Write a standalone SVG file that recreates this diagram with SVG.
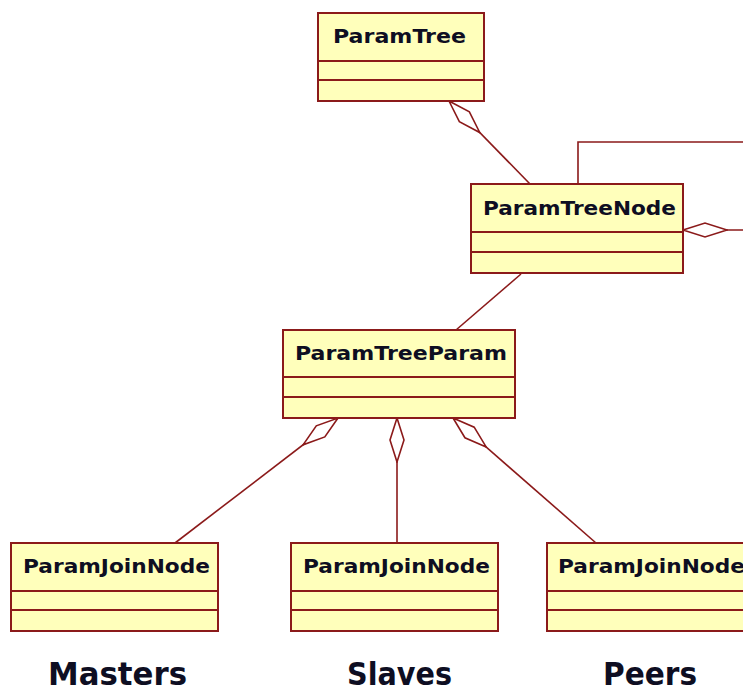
<svg xmlns="http://www.w3.org/2000/svg" width="743" height="693" viewBox="0 0 743 693">
  <style>
    .box { fill: #FFFFBB; stroke: #8B1A1A; stroke-width: 2; }
    .sep { stroke: #8B1A1A; stroke-width: 2; }
    .title { font-family: "DejaVu Sans", Verdana, sans-serif; font-weight: bold; font-size: 20px; fill: #0E0E22; }
    .label { font-family: "DejaVu Sans", Verdana, sans-serif; font-weight: bold; font-size: 32px; fill: #0E0E22; }
    .conn { fill: none; stroke: #8B1A1A; stroke-width: 1.6; }
  </style>
  <defs>
    <!-- open aggregation diamond, drawn from the owning class outward -->
    <marker id="agg" viewBox="-1 -1 46 18" refX="0" refY="8" markerWidth="46" markerHeight="18" markerUnits="userSpaceOnUse" orient="auto">
      <path d="M0,8 L22,1 L44,8 L22,15 Z" fill="#FFFFFF" stroke="#8B1A1A" stroke-width="1.6"/>
    </marker>
  </defs>

  <g id="connectors">
    <path class="conn" d="M449,101 L530,184" marker-start="url(#agg)"/>
    <path class="conn" d="M578,184 L578,142 L745,142"/>
    <path class="conn" d="M683,230 L745,230" marker-start="url(#agg)"/>
    <path class="conn" d="M521,274 L456,330"/>
    <path class="conn" d="M338,418 L175,543" marker-start="url(#agg)"/>
    <path class="conn" d="M397,418 L397,543" marker-start="url(#agg)"/>
    <path class="conn" d="M453,418 L596,543" marker-start="url(#agg)"/>
  </g>

  <g id="ParamTree">
    <rect class="box" x="318" y="13" width="166" height="88"/>
    <line class="sep" x1="318" y1="61" x2="484" y2="61"/>
    <line class="sep" x1="318" y1="80" x2="484" y2="80"/>
    <text class="title" x="333" y="43" textLength="133" lengthAdjust="spacingAndGlyphs">ParamTree</text>
  </g>

  <g id="ParamTreeNode">
    <rect class="box" x="471" y="184" width="212" height="89"/>
    <line class="sep" x1="471" y1="232" x2="683" y2="232"/>
    <line class="sep" x1="471" y1="252" x2="683" y2="252"/>
    <text class="title" x="483" y="215" textLength="193" lengthAdjust="spacingAndGlyphs">ParamTreeNode</text>
  </g>

  <g id="ParamTreeParam">
    <rect class="box" x="283" y="330" width="232" height="88"/>
    <line class="sep" x1="283" y1="377" x2="515" y2="377"/>
    <line class="sep" x1="283" y1="397" x2="515" y2="397"/>
    <text class="title" x="295" y="360" textLength="212" lengthAdjust="spacingAndGlyphs">ParamTreeParam</text>
  </g>

  <g id="ParamJoinNode-masters">
    <rect class="box" x="11" y="543" width="207" height="88"/>
    <line class="sep" x1="11" y1="591" x2="218" y2="591"/>
    <line class="sep" x1="11" y1="610" x2="218" y2="610"/>
    <text class="title" x="23" y="573" textLength="187" lengthAdjust="spacingAndGlyphs">ParamJoinNode</text>
  </g>

  <g id="ParamJoinNode-slaves">
    <rect class="box" x="291" y="543" width="207" height="88"/>
    <line class="sep" x1="291" y1="591" x2="498" y2="591"/>
    <line class="sep" x1="291" y1="610" x2="498" y2="610"/>
    <text class="title" x="303" y="573" textLength="187" lengthAdjust="spacingAndGlyphs">ParamJoinNode</text>
  </g>

  <g id="ParamJoinNode-peers">
    <rect class="box" x="547" y="543" width="207" height="88"/>
    <line class="sep" x1="547" y1="591" x2="754" y2="591"/>
    <line class="sep" x1="547" y1="610" x2="754" y2="610"/>
    <text class="title" x="558" y="573" textLength="187" lengthAdjust="spacingAndGlyphs">ParamJoinNode</text>
  </g>

  <g id="labels">
    <text class="label" x="48" y="685" textLength="139" lengthAdjust="spacingAndGlyphs">Masters</text>
    <text class="label" x="347" y="685" textLength="105" lengthAdjust="spacingAndGlyphs">Slaves</text>
    <text class="label" x="603" y="685" textLength="94" lengthAdjust="spacingAndGlyphs">Peers</text>
  </g>
</svg>
